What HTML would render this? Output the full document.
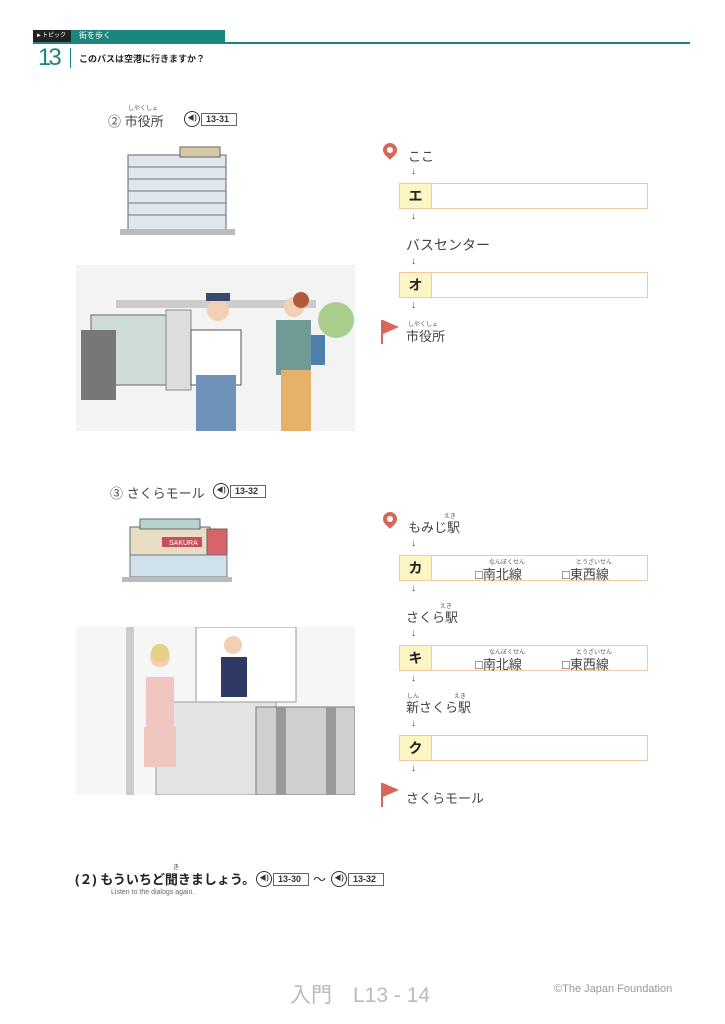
<!DOCTYPE html>
<html><head><meta charset="utf-8"><style>
body{margin:0;background:#fff;}
#p{position:relative;width:725px;height:1024px;overflow:hidden;font-family:"Liberation Sans","Noto Sans CJK JP",sans-serif;color:#333;}
.a{position:absolute;white-space:nowrap;}
.box{position:absolute;left:399px;width:249px;height:26px;border:1px solid #f1c9a5;box-sizing:border-box;}
.box .l{position:absolute;left:0;top:0;width:31px;height:24px;background:#fdf5c4;border-right:1px solid #f1c9a5;font-weight:bold;font-size:14px;text-align:center;line-height:24px;color:#222;}
.ar{position:absolute;left:411px;font-size:10px;color:#444;}
.t{font-size:13px;color:#444;}
.rb{font-size:6px;color:#555;}
.pin{position:absolute;width:14px;height:14px;background:#d9665a;border-radius:50% 50% 50% 0;transform:rotate(-45deg);}
.pin:after{content:"";position:absolute;left:4px;top:4px;width:6px;height:6px;background:#fff;border-radius:50%;}
.flag{position:absolute;width:2px;height:24px;background:#d9665a;}
.flag:after{content:"";position:absolute;left:2px;top:0;border-left:16px solid #d9665a;border-top:7px solid transparent;border-bottom:7px solid transparent;}
.spk{position:absolute;font-size:9px;font-weight:bold;}
.spk b{display:inline-block;width:14px;height:14px;border:1px solid #333;border-radius:50%;font-size:7px;text-align:center;line-height:14px;vertical-align:middle;}
.spk span{display:inline-block;border:1px solid #666;padding:0 7px 0 4px;height:11px;line-height:11px;vertical-align:middle;margin-left:1px;}
</style></head><body><div id="p">
<div class="a" style="left:33px;top:30px;width:38px;height:12px;background:#222;color:#fff;font-size:6px;line-height:12px;padding-left:3px;box-sizing:border-box">►トピック</div>
<div class="a" style="left:71px;top:30px;width:154px;height:12px;background:#19867f;color:#fff;font-size:8px;line-height:12px;padding-left:8px;box-sizing:border-box">街を歩く</div>
<div class="a" style="left:33px;top:42px;width:657px;height:2px;background:#19867f"></div>
<div class="a" style="left:38px;top:44px;font-size:24px;color:#19867f;letter-spacing:-3px">13</div>
<div class="a" style="left:70px;top:48px;width:1px;height:20px;background:#19867f"></div>
<div class="a" style="left:79px;top:52px;font-size:9px;font-weight:bold;color:#222">このバスは空港に行きますか？</div>

<div class="a t" style="left:108px;top:111px">② 市役所</div>
<div class="a rb" style="left:128px;top:103px">しやくしょ</div>
<div class="spk" style="left:184px;top:111px"><b>◀)</b><span>13-31</span></div>

<svg class="a" style="left:120px;top:145px" width="115" height="92"><rect x="8" y="10" width="98" height="78" fill="#dfe7ee" stroke="#666"/><rect x="60" y="2" width="40" height="10" fill="#d8c9a5" stroke="#666"/><g stroke="#777"><line x1="8" y1="22" x2="106" y2="22"/><line x1="8" y1="34" x2="106" y2="34"/><line x1="8" y1="46" x2="106" y2="46"/><line x1="8" y1="58" x2="106" y2="58"/><line x1="8" y1="70" x2="106" y2="70"/></g><rect x="0" y="84" width="115" height="6" fill="#bbb"/></svg>

<svg class="a" style="left:76px;top:265px" width="279" height="166"><rect width="279" height="166" fill="#f3f3f3"/><rect x="40" y="35" width="200" height="8" fill="#ccc"/><rect x="15" y="50" width="80" height="70" fill="#cfdcd6" stroke="#666"/><rect x="5" y="65" width="35" height="70" fill="#777"/><rect x="90" y="45" width="25" height="80" fill="#ddd" stroke="#888"/><circle cx="260" cy="55" r="18" fill="#a9cd8c"/><rect x="115" y="65" width="50" height="55" fill="#fff" stroke="#555"/><rect x="120" y="110" width="40" height="56" fill="#6f93b8"/><circle cx="142" cy="45" r="11" fill="#f1d0b6"/><rect x="130" y="28" width="24" height="8" fill="#3b4a6b"/><rect x="200" y="55" width="35" height="55" fill="#6f9b97"/><rect x="205" y="105" width="30" height="61" fill="#e6b26b"/><circle cx="218" cy="42" r="10" fill="#f1d0b6"/><circle cx="225" cy="35" r="8" fill="#b45a3c"/><rect x="235" y="70" width="14" height="30" fill="#4e7fae"/></svg>

<div class="pin" style="left:383px;top:143px"></div>
<div class="a t" style="left:408px;top:146px">ここ</div>
<div class="ar" style="top:166px">↓</div>
<div class="box" style="top:183px"><div class="l">エ</div></div>
<div class="ar" style="top:211px">↓</div>
<div class="a t" style="left:406px;top:235px;font-size:14px">バスセンター</div>
<div class="ar" style="top:256px">↓</div>
<div class="box" style="top:272px"><div class="l">オ</div></div>
<div class="ar" style="top:300px">↓</div>
<div class="flag" style="left:381px;top:320px"></div>
<div class="a rb" style="left:408px;top:319px">しやくしょ</div>
<div class="a t" style="left:406px;top:326px">市役所</div>

<div class="a t" style="left:110px;top:483px">③ さくらモール</div>
<div class="spk" style="left:213px;top:483px"><b>◀)</b><span>13-32</span></div>

<svg class="a" style="left:122px;top:515px" width="110" height="68"><rect x="8" y="12" width="80" height="52" fill="#e9dcc5" stroke="#666"/><rect x="18" y="4" width="60" height="10" fill="#b7d3cf" stroke="#666"/><rect x="85" y="14" width="20" height="50" fill="#d9636b" stroke="#666"/><rect x="40" y="22" width="40" height="10" fill="#c94f5a"/><text x="47" y="30" font-size="7" fill="#fff" font-family="Liberation Sans">SAKURA</text><rect x="8" y="40" width="97" height="22" fill="#cfe1ea" stroke="#777"/><rect x="0" y="62" width="110" height="5" fill="#bbb"/></svg>

<svg class="a" style="left:76px;top:627px" width="279" height="168"><rect width="279" height="168" fill="#f6f6f6"/><rect x="50" y="0" width="8" height="168" fill="#ccc"/><rect x="120" y="0" width="100" height="75" fill="#fff" stroke="#999"/><rect x="80" y="75" width="120" height="93" fill="#e4e4e4" stroke="#999"/><rect x="180" y="80" width="99" height="88" fill="#cfcfcf" stroke="#777"/><rect x="200" y="80" width="10" height="88" fill="#999"/><rect x="250" y="80" width="10" height="88" fill="#999"/><rect x="70" y="50" width="28" height="55" fill="#f2c6c0"/><rect x="68" y="100" width="32" height="40" fill="#f0c7c0"/><circle cx="84" cy="30" r="10" fill="#f1d0b6"/><circle cx="84" cy="26" r="9" fill="#e8cf86"/><rect x="145" y="30" width="26" height="40" fill="#2e3a63"/><circle cx="157" cy="18" r="9" fill="#f1d0b6"/></svg>

<div class="pin" style="left:383px;top:512px"></div>
<div class="a rb" style="left:444px;top:511px">えき</div>
<div class="a t" style="left:408px;top:517px">もみじ駅</div>
<div class="ar" style="top:538px">↓</div>
<div class="box" style="top:555px"><div class="l">カ</div></div>
<div class="a rb" style="left:489px;top:557px">なんぼくせん</div>
<div class="a t" style="left:475px;top:564px">□南北線</div>
<div class="a rb" style="left:576px;top:557px">とうざいせん</div>
<div class="a t" style="left:562px;top:564px">□東西線</div>
<div class="ar" style="top:583px">↓</div>
<div class="a rb" style="left:440px;top:601px">えき</div>
<div class="a t" style="left:406px;top:607px">さくら駅</div>
<div class="ar" style="top:628px">↓</div>
<div class="box" style="top:645px"><div class="l">キ</div></div>
<div class="a rb" style="left:489px;top:647px">なんぼくせん</div>
<div class="a t" style="left:475px;top:654px">□南北線</div>
<div class="a rb" style="left:576px;top:647px">とうざいせん</div>
<div class="a t" style="left:562px;top:654px">□東西線</div>
<div class="ar" style="top:673px">↓</div>
<div class="a rb" style="left:407px;top:691px">しん</div>
<div class="a rb" style="left:454px;top:691px">えき</div>
<div class="a t" style="left:406px;top:697px">新さくら駅</div>
<div class="ar" style="top:718px">↓</div>
<div class="box" style="top:735px"><div class="l">ク</div></div>
<div class="ar" style="top:763px">↓</div>
<div class="flag" style="left:381px;top:783px"></div>
<div class="a t" style="left:406px;top:788px">さくらモール</div>

<div class="a" style="left:75px;top:869px;font-size:13px;font-weight:bold;color:#222">(２) もういちど聞きましょう。</div>
<div class="a" style="left:173px;top:862px;font-size:6px">き</div>
<div class="spk" style="left:256px;top:871px"><b>◀)</b><span>13-30</span></div>
<div class="a" style="left:313px;top:869px;font-size:13px">～</div>
<div class="spk" style="left:331px;top:871px"><b>◀)</b><span>13-32</span></div>
<div class="a" style="left:111px;top:889px;font-size:7px;color:#666">Listen to the dialogs again.</div>

<div class="a" style="left:290px;top:979px;font-size:21px;color:#bbb">入門　L13 - 14</div>
<div class="a" style="left:554px;top:983px;font-size:11px;color:#999">©The Japan Foundation</div>
</div></body></html>
